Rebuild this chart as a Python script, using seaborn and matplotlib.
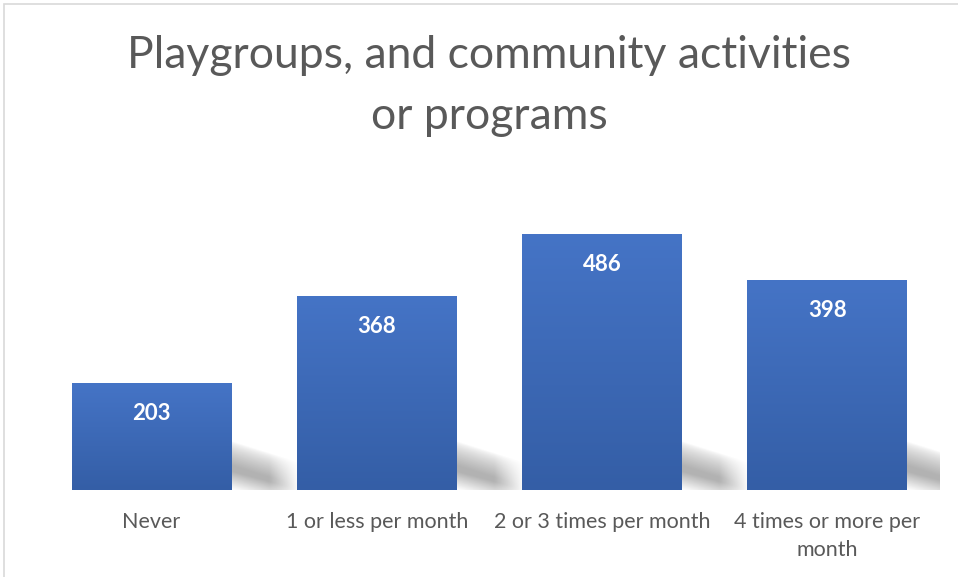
import numpy as np
import pandas as pd
import matplotlib
matplotlib.use("Agg")
import matplotlib.pyplot as plt
import seaborn as sns
from matplotlib.patches import Rectangle
from matplotlib.colors import LinearSegmentedColormap

categories = ["Never", "1 or less per month", "2 or 3 times per month", "4 times or more per\nmonth"]
values = [203, 368, 486, 398]
title = "Playgroups, and community activities\nor programs"

sns.set_theme(style="white")
plt.rcParams['font.family'] = ['Lato', 'DejaVu Sans']

W, H = 958, 577
fig = plt.figure(figsize=(W / 100, H / 100), dpi=100)
ax = fig.add_axes([39 / W, (H - 490) / H, 901 / W, 316 / H])

df = pd.DataFrame({"cat": categories, "val": values})
sns.barplot(data=df, x="cat", y="val", color="#4472C4", width=0.71, ax=ax, zorder=3)
ax.set_ylim(0, 600)
ax.set_xlim(-0.5, len(categories) - 0.5)

# gradient fill and shadows
grad = LinearSegmentedColormap.from_list("g", ["#345EA6", "#4574C6"])
gimg = np.linspace(0, 1, 256).reshape(-1, 1)
for p in ax.patches:
    x0, w, h = p.get_x(), p.get_width(), p.get_height()
    im = ax.imshow(gimg, cmap=grad, aspect="auto", origin="lower",
                   extent=[x0, x0 + w, 0, h], zorder=4)
    im.set_clip_path(p)
    p.set_edgecolor("none")
    # soft perspective shadow
    nx, ny = 80, 80
    xs = np.linspace(0, 1, nx)
    ys = np.linspace(0, 1, ny)
    X, Y = np.meshgrid(xs, ys)
    top = 0.8 - 0.35 * X
    a = (np.clip((top - Y) / 0.4, 0, 1) ** 0.7
         * np.clip((1 - X) / 0.45, 0, 1)
         * np.clip((Y + 0.3 * X) / 0.3, 0, 1))
    rgba = np.zeros((ny, nx, 4))
    rgba[..., :3] = 0.5
    rgba[..., 3] = a * 0.6
    ax.imshow(rgba, origin="lower", aspect="auto",
              extent=[x0 + w, x0 + w + 0.3, 0, 115], zorder=2, interpolation="bilinear")
    ax.text(x0 + w / 2, h - 30 / 0.527, f"{int(h)}", ha="center", va="center",
            color="white", fontsize=16, fontweight="bold", zorder=6)

ax.set_xlim(-0.5, len(categories) - 0.5)
ax.set_ylim(0, 600)
ax.set_xlabel("")
ax.set_ylabel("")
ax.set_yticks([])
ax.tick_params(axis="x", length=0, pad=16, labelsize=15.5, labelcolor="#595959")
for lab in ax.get_xticklabels():
    lab.set_linespacing(1.5)
for s in ax.spines.values():
    s.set_visible(False)
ax.patch.set_alpha(0)

fig.text(489 / W, 1 - 86 / H, title, ha="center", va="center", fontsize=32,
         color="#595959", linespacing=1.6)

fig.patches.append(Rectangle((4 / W, -0.1), 1.2, (H - 4) / H + 0.1, transform=fig.transFigure,
                             fill=False, edgecolor="#D9D9D9", linewidth=1.2, zorder=0))

fig.savefig("out.png", dpi=100)
